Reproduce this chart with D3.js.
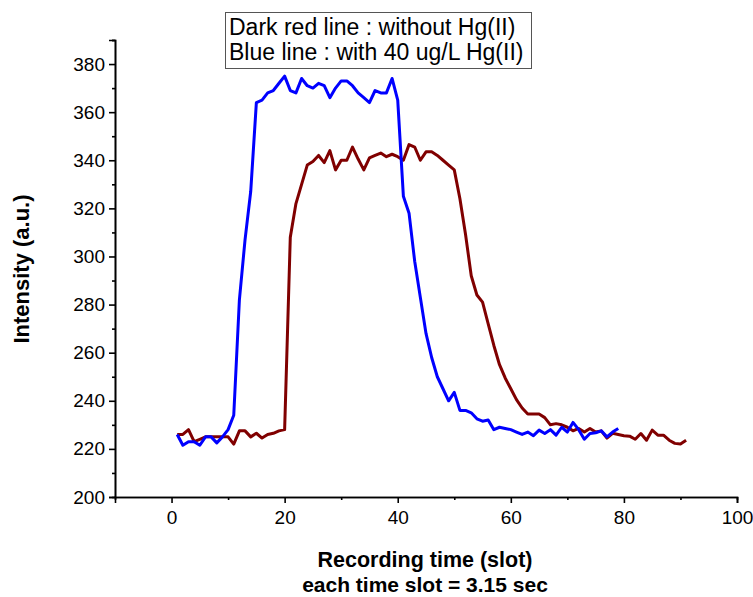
<!DOCTYPE html>
<html>
<head>
<meta charset="utf-8">
<script src="https://cdn.jsdelivr.net/npm/d3@7"></script>
<style>
  html, body { margin: 0; padding: 0; background: #fff; }
  svg { display: block; }
  text { font-family: "Liberation Sans", Arial, sans-serif; fill: #000; }
</style>
</head>
<body>
<svg id="chart" width="753" height="597"></svg>
<script>
// Recording slots
const slotsBlue = d3.range(1, 80);
const slotsRed = d3.range(1, 92);

// Intensity without Hg(II)
const redValues = [
  226, 226, 228, 223, 224, 225, 225, 225, 225, 225,
  222, 227.5, 227.5, 225, 226.5, 224.5, 226, 226.5, 227.5, 228,
  308, 322, 330, 338, 339.5, 342, 339, 344, 336, 340,
  340, 345.5, 340.5, 336, 341, 342, 343, 341.5, 342.5, 341.5,
  340, 346.5, 345.5, 340, 343.5, 343.5, 342, 340, 338, 336,
  324, 309, 292, 284, 281, 272, 263, 255, 249.5, 245,
  240.5, 237, 234.5, 234.5, 234.5, 233, 230, 230.5, 230, 229,
  227.5, 228.5, 227, 228.5, 227, 227.5, 224.5, 226.5, 226, 225.5,
  225.3, 224, 226.4, 223.6, 227.8, 225.7, 225.7, 223.6, 222.3, 222,
  223.6
];

// Intensity with 40 ug/L Hg(II)
const blueValues = [
  226, 221.5, 223, 223, 221.5, 225, 225, 222.5, 225, 228,
  234, 282, 307, 327, 364, 365, 368, 369, 372, 375,
  369, 368, 374, 371, 370, 372, 371, 366, 370, 373,
  373, 371, 368, 366, 364, 369, 368, 368, 374, 365,
  325, 318, 298, 283, 268, 258, 250, 245, 240, 243.5,
  236, 236, 235, 232.5, 231.5, 232, 228, 229, 228.5, 228,
  227, 226, 227, 225.5, 227.8, 226.4, 228, 225.7, 229, 227,
  231, 228, 224, 226.4, 226.7, 227.5, 225, 227, 228.5
];

const xTicks = [0, 20, 40, 60, 80, 100];
const yTicks = [200, 220, 240, 260, 280, 300, 320, 340, 360, 380];
const legendLines = ["Dark red line : without Hg(II)", "Blue line : with 40 ug/L Hg(II)"];

const svg = d3.select("#chart");
const plotLeft = 115, plotRight = 737, plotTop = 40, plotBottom = 497;

const x = d3.scaleLinear().domain([-10, 100]).range([plotLeft, plotRight]);
const y = d3.scaleLinear().domain([200, 390]).range([plotBottom, plotTop]);

// Axes: major ticks every 20, minor ticks between
const xAxis = d3.axisBottom(x).tickValues(xTicks).tickSize(6).tickPadding(8).tickFormat(d3.format("d"));
const xMinor = d3.axisBottom(x).tickValues([10, 30, 50, 70, 90]).tickSize(3).tickFormat("");
const yAxis = d3.axisLeft(y).tickValues(yTicks).tickSize(6).tickPadding(4).tickFormat(d3.format("d"));
const yMinor = d3.axisLeft(y).tickValues([210, 230, 250, 270, 290, 310, 330, 350, 370, 390]).tickSize(3).tickFormat("");

function styleAxis(g) {
  g.select(".domain").attr("stroke", "#000").attr("stroke-width", 1.6);
  g.selectAll(".tick line").attr("stroke", "#000").attr("stroke-width", 1.6);
  g.selectAll(".tick text").attr("font-size", 19).attr("font-family", "Liberation Sans, Arial, sans-serif").attr("fill", "#000");
}

svg.append("g").attr("transform", `translate(0,${plotBottom})`).call(xMinor).call(styleAxis);
svg.append("g").attr("transform", `translate(0,${plotBottom})`).call(xAxis).call(styleAxis);
svg.append("g").attr("transform", `translate(${plotLeft},0)`).call(yMinor).call(styleAxis);
svg.append("g").attr("transform", `translate(${plotLeft},0)`).call(yAxis).call(styleAxis);

// Series lines
const line = d3.line().x(d => x(d[0])).y(d => y(d[1]));

svg.append("path")
  .datum(slotsRed.map((s, i) => [s, redValues[i]]))
  .attr("d", line)
  .attr("fill", "none")
  .attr("stroke", "#800000")
  .attr("stroke-width", 3)
  .attr("stroke-linejoin", "round");

svg.append("path")
  .datum(slotsBlue.map((s, i) => [s, blueValues[i]]))
  .attr("d", line)
  .attr("fill", "none")
  .attr("stroke", "#0000ff")
  .attr("stroke-width", 3)
  .attr("stroke-linejoin", "round");

// Axis titles
svg.append("text")
  .attr("transform", `translate(29,269) rotate(-90)`)
  .attr("text-anchor", "middle")
  .attr("font-size", 22)
  .attr("font-weight", "bold")
  .text("Intensity (a.u.)");

svg.append("text")
  .attr("x", 425).attr("y", 567)
  .attr("text-anchor", "middle")
  .attr("font-size", 21.5)
  .attr("font-weight", "bold")
  .text("Recording time (slot)");

svg.append("text")
  .attr("x", 425).attr("y", 592)
  .attr("text-anchor", "middle")
  .attr("font-size", 21)
  .attr("font-weight", "bold")
  .text("each time slot = 3.15 sec");

// Legend box
const legend = svg.append("g");
legend.append("rect")
  .attr("x", 225.5).attr("y", 12.5)
  .attr("width", 306).attr("height", 56)
  .attr("fill", "#fff")
  .attr("stroke", "#555")
  .attr("stroke-width", 1);
legend.selectAll("text.leg")
  .data(legendLines)
  .join("text")
  .attr("class", "leg")
  .attr("x", 229)
  .attr("y", (d, i) => 35 + i * 25)
  .attr("font-size", 23)
  .text(d => d);
</script>
</body>
</html>
